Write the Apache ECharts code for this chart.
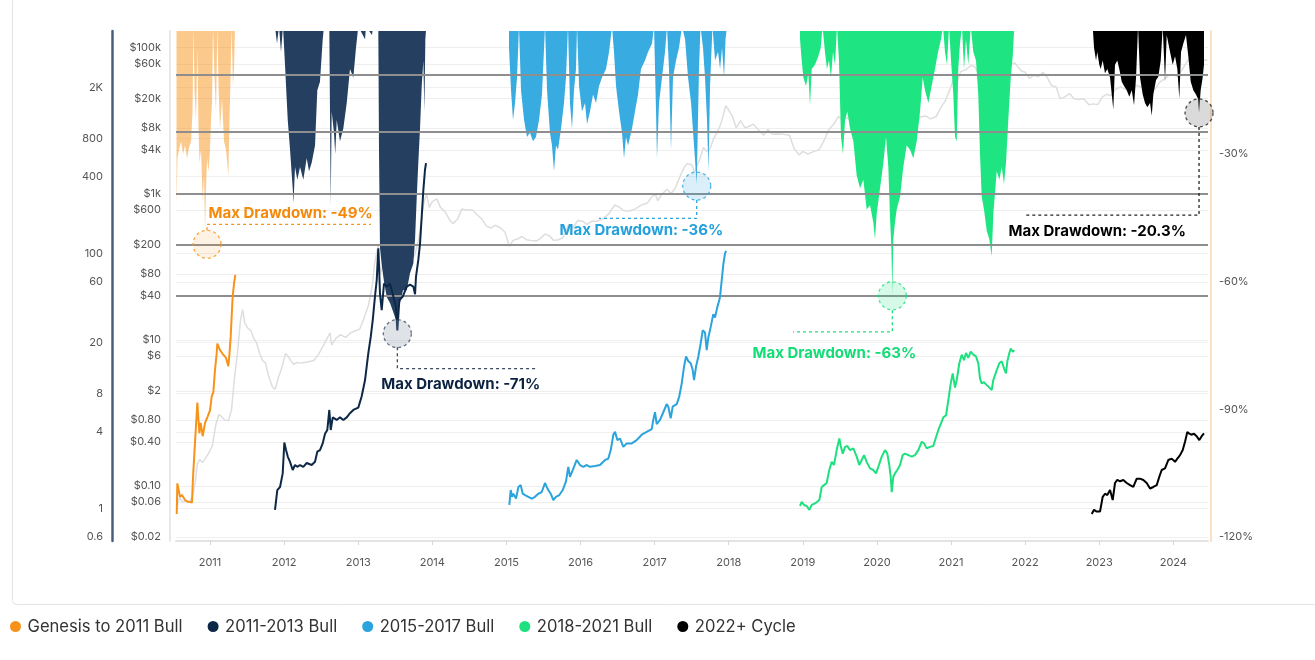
<!DOCTYPE html>
<html><head><meta charset="utf-8">
<script src="https://cdn.jsdelivr.net/npm/echarts@6/dist/echarts.min.js"></script>
<style>html,body{margin:0;padding:0;background:#fff}#c{width:1315px;height:660px}</style>
</head><body><div id="c"></div>
<script>
// ---------- tick labels ----------
const yearTicks = [2011,2012,2013,2014,2015,2016,2017,2018,2019,2020,2021,2022,2023,2024];
const priceTicks = [100000,60000,20000,8000,4000,1000,600,200,80,40,10,6,2,0.8,0.4,0.1,0.06,0.02];
const priceTickLabels = ['$100k','$60k','$20k','$8k','$4k','$1k','$600','$200','$80','$40','$10','$6','$2','$0.80','$0.40','$0.10','$0.06','$0.02'];
const multipleTicks = [2000,800,400,100,60,20,8,4,1,0.6];
const multipleTickLabels = ['2K','800','400','100','60','20','8','4','1','0.6'];
const drawdownTicks = [-30,-60,-90,-120];
const referenceLevels = [43000,7000,1000,200,40];

// ---------- categories ----------
const cycleNames = ['Genesis to 2011 Bull','2011-2013 Bull','2015-2017 Bull','2018-2021 Bull','2022+ Cycle'];
const maxDrawdownLabels = ['Max Drawdown: -49%','Max Drawdown: -71%','Max Drawdown: -36%','Max Drawdown: -63%','Max Drawdown: -20.3%'];

// ---------- BTC price (year, USD) ----------
const btcPrice = [[2010.55,0.05],[2010.59,0.07],[2010.63,0.06],[2010.68,0.063],[2010.72,0.06],[2010.76,0.07],[2010.80,0.11],[2010.83,0.20],[2010.86,0.23],[2010.90,0.21],[2010.94,0.24],[2010.98,0.28],[2011.03,0.35],[2011.08,0.70],[2011.12,0.95],[2011.16,0.88],[2011.20,0.80],[2011.25,0.78],[2011.29,1.10],[2011.33,3.0],[2011.37,6.5],[2011.41,18],[2011.44,26],[2011.47,17],[2011.51,14.5],[2011.55,13.5],[2011.59,10.5],[2011.63,9.0],[2011.67,6.5],[2011.71,5.2],[2011.75,4.8],[2011.79,3.2],[2011.84,2.3],[2011.88,2.1],[2011.92,3.0],[2011.96,3.9],[2012.02,6.5],[2012.05,6.0],[2012.09,5.2],[2012.13,4.6],[2012.17,4.9],[2012.22,4.8],[2012.27,4.9],[2012.33,5.0],[2012.40,5.2],[2012.46,6.2],[2012.52,8.0],[2012.58,10.5],[2012.62,12.5],[2012.64,8.5],[2012.70,10.5],[2012.76,11.8],[2012.83,10.8],[2012.90,12.5],[2012.96,13.3],[2013.02,14],[2013.08,20],[2013.14,30],[2013.19,55],[2013.22,110],[2013.27,200],[2013.30,80],[2013.34,115],[2013.40,120],[2013.46,100],[2013.51,70],[2013.56,95],[2013.63,110],[2013.70,130],[2013.76,140],[2013.82,250],[2013.88,700],[2013.92,1000],[2013.96,650],[2014.00,780],[2014.06,850],[2014.11,650],[2014.17,570],[2014.24,430],[2014.28,390],[2014.34,450],[2014.40,620],[2014.46,600],[2014.54,600],[2014.60,520],[2014.67,450],[2014.73,360],[2014.79,340],[2014.85,370],[2014.92,340],[2014.98,300],[2015.04,190],[2015.09,230],[2015.15,240],[2015.21,260],[2015.27,235],[2015.33,230],[2015.40,225],[2015.46,245],[2015.52,280],[2015.58,265],[2015.64,230],[2015.70,235],[2015.76,250],[2015.84,380],[2015.90,340],[2015.96,430],[2016.03,420],[2016.09,380],[2016.15,420],[2016.22,420],[2016.30,450],[2016.38,530],[2016.46,700],[2016.52,660],[2016.58,590],[2016.66,580],[2016.74,620],[2016.82,700],[2016.90,740],[2016.96,900],[2017.01,1000],[2017.04,800],[2017.10,1000],[2017.17,1150],[2017.22,1000],[2017.28,1200],[2017.35,1800],[2017.40,2300],[2017.44,2600],[2017.50,2500],[2017.54,2000],[2017.60,2800],[2017.66,4300],[2017.70,3800],[2017.75,4200],[2017.80,5800],[2017.85,7000],[2017.90,9500],[2017.96,16000],[2018.00,14000],[2018.05,11500],[2018.10,8000],[2018.16,10000],[2018.22,8000],[2018.28,8400],[2018.33,9000],[2018.40,7500],[2018.47,6300],[2018.53,7600],[2018.59,6500],[2018.66,6600],[2018.74,6500],[2018.82,6300],[2018.88,4200],[2018.95,3400],[2019.00,3800],[2019.07,3500],[2019.15,3800],[2019.22,4000],[2019.28,5200],[2019.35,7500],[2019.42,9000],[2019.48,11500],[2019.54,10000],[2019.60,11000],[2019.67,10000],[2019.73,8300],[2019.80,8500],[2019.86,8500],[2019.92,7200],[2019.97,7200],[2020.04,8000],[2020.11,10000],[2020.17,8800],[2020.20,5500],[2020.25,6600],[2020.32,7500],[2020.38,9500],[2020.46,9400],[2020.54,9200],[2020.58,11200],[2020.66,11600],[2020.72,10600],[2020.80,11400],[2020.86,15000],[2020.92,18500],[2020.98,26000],[2021.03,36000],[2021.08,33000],[2021.13,47000],[2021.20,50000],[2021.27,57000],[2021.32,55000],[2021.38,43000],[2021.45,36000],[2021.52,33000],[2021.57,32000],[2021.62,40000],[2021.68,47000],[2021.74,44000],[2021.80,58000],[2021.86,62000],[2021.90,55000],[2021.95,48000],[2022.00,46000],[2022.06,38000],[2022.12,42000],[2022.18,40000],[2022.24,46000],[2022.30,39000],[2022.36,30000],[2022.42,29000],[2022.47,20000],[2022.53,21000],[2022.60,23500],[2022.66,20000],[2022.72,19500],[2022.79,20000],[2022.86,16500],[2022.92,17000],[2022.98,16600],[2023.04,21000],[2023.10,23000],[2023.16,22000],[2023.22,27000],[2023.29,29000],[2023.35,27000],[2023.42,26000],[2023.48,30500],[2023.55,29500],[2023.62,26000],[2023.69,26500],[2023.75,27000],[2023.82,34000],[2023.88,37000],[2023.94,42000],[2024.00,43000],[2024.05,40000],[2024.12,50000],[2024.20,68000],[2024.25,69000],[2024.30,64000],[2024.36,62000],[2024.41,68000],[2024.46,67000]];

// ---------- cycle price multiples (year, x from cycle start) ----------
const genesisMultiple = [[2010.551,0.91],[2010.559,1.58],[2010.595,1.24],[2010.622,1.28],[2010.663,1.17],[2010.690,1.14],[2010.730,1.13],[2010.757,1.12],[2010.767,1.58],[2010.775,1.96],[2010.798,2.0],[2010.829,6.8],[2010.856,3.9],[2010.874,4.7],[2010.901,3.7],[2010.933,4.7],[2010.969,5.3],[2011.000,5.9],[2011.023,7.6],[2011.045,8.2],[2011.067,12.2],[2011.090,16.5],[2011.099,19.7],[2011.135,17.5],[2011.179,16.1],[2011.216,15.2],[2011.247,13.1],[2011.260,15.6],[2011.279,22.2],[2011.293,33],[2011.306,46],[2011.324,58],[2011.341,68]];
const bull2013Multiple = [[2011.877,0.98],[2011.908,1.40],[2011.945,1.48],[2011.981,1.89],[2012.003,3.3],[2012.026,2.88],[2012.049,2.56],[2012.080,2.33],[2012.116,2.01],[2012.147,2.2],[2012.178,2.13],[2012.215,2.2],[2012.259,2.13],[2012.305,2.28],[2012.372,2.2],[2012.417,2.33],[2012.448,2.8],[2012.484,2.88],[2012.521,3.25],[2012.552,3.87],[2012.583,4.14],[2012.610,5.94],[2012.629,4.14],[2012.656,5.2],[2012.710,4.96],[2012.754,5.2],[2012.799,4.96],[2012.845,5.2],[2012.889,5.6],[2012.934,5.94],[2013.001,6.2],[2013.047,7.6],[2013.092,10.2],[2013.136,16.5],[2013.169,22.2],[2013.196,30.1],[2013.227,46.5],[2013.250,62],[2013.271,110],[2013.281,80],[2013.294,48],[2013.317,36],[2013.348,58],[2013.385,55],[2013.429,58],[2013.474,46],[2013.510,38],[2013.528,25],[2013.555,43],[2013.601,46],[2013.655,55],[2013.699,57],[2013.744,55],[2013.767,48],[2013.780,66],[2013.811,89],[2013.834,119],[2013.857,195],[2013.879,314],[2013.901,451],[2013.915,510]];
const bull2017Multiple = [[2015.039,1.07],[2015.058,1.40],[2015.076,1.24],[2015.093,1.31],[2015.130,1.20],[2015.161,1.48],[2015.193,1.53],[2015.220,1.31],[2015.251,1.28],[2015.296,1.24],[2015.341,1.20],[2015.386,1.24],[2015.430,1.31],[2015.476,1.35],[2015.521,1.59],[2015.544,1.48],[2015.565,1.40],[2015.598,1.31],[2015.633,1.17],[2015.669,1.24],[2015.714,1.28],[2015.760,1.40],[2015.804,1.64],[2015.835,2.13],[2015.858,1.78],[2015.895,2.01],[2015.949,2.41],[2015.993,2.20],[2016.038,2.13],[2016.084,2.20],[2016.128,2.13],[2016.196,2.16],[2016.263,2.20],[2016.331,2.41],[2016.375,2.47],[2016.408,2.88],[2016.443,3.8],[2016.466,4.0],[2016.497,3.45],[2016.533,3.55],[2016.578,3.05],[2016.623,3.25],[2016.691,3.25],[2016.758,3.45],[2016.826,3.8],[2016.893,4.0],[2016.961,4.2],[2016.982,4.96],[2017.005,5.7],[2017.028,4.6],[2017.073,4.96],[2017.117,5.7],[2017.163,6.6],[2017.185,6.3],[2017.217,5.1],[2017.244,6.3],[2017.298,6.6],[2017.333,7.6],[2017.366,9.6],[2017.397,13],[2017.424,15.6],[2017.455,14.3],[2017.487,13.8],[2017.514,12.2],[2017.532,10.2],[2017.559,13],[2017.590,15.6],[2017.622,19.8],[2017.649,25],[2017.680,24],[2017.703,17.5],[2017.725,22],[2017.757,26.6],[2017.792,33.5],[2017.815,31.5],[2017.846,38],[2017.873,43.2],[2017.883,46],[2017.906,62],[2017.928,83],[2017.950,100],[2017.964,105]];
const bull2021Multiple = [[2018.962,1.05],[2018.985,1.13],[2019.016,1.07],[2019.053,1.05],[2019.088,0.98],[2019.120,1.07],[2019.164,1.10],[2019.223,1.17],[2019.255,1.48],[2019.286,1.53],[2019.322,1.59],[2019.357,2.01],[2019.390,2.33],[2019.421,2.2],[2019.457,2.88],[2019.493,3.55],[2019.512,3.1],[2019.539,2.7],[2019.570,3.05],[2019.601,3.1],[2019.637,2.88],[2019.682,2.97],[2019.727,2.56],[2019.762,2.2],[2019.795,2.41],[2019.826,2.63],[2019.862,2.33],[2019.907,2.07],[2019.951,2.01],[2019.988,1.89],[2020.019,2.13],[2020.065,2.56],[2020.109,2.88],[2020.140,2.7],[2020.167,2.2],[2020.186,1.78],[2020.200,1.35],[2020.221,1.78],[2020.244,1.89],[2020.275,2.01],[2020.312,2.2],[2020.348,2.63],[2020.379,2.7],[2020.424,2.63],[2020.470,2.56],[2020.514,2.63],[2020.559,2.88],[2020.605,3.35],[2020.636,3.25],[2020.672,2.97],[2020.717,3.05],[2020.761,3.1],[2020.798,3.65],[2020.829,4.14],[2020.861,4.6],[2020.896,5.2],[2020.933,5.4],[2020.964,7.1],[2020.996,9.6],[2021.023,11.5],[2021.054,8.9],[2021.077,10.2],[2021.112,13.8],[2021.144,16.1],[2021.175,14.6],[2021.202,16.6],[2021.233,15.2],[2021.266,17.0],[2021.301,16.1],[2021.337,15.6],[2021.368,13.8],[2021.391,10.5],[2021.414,9.6],[2021.445,9.8],[2021.482,9.3],[2021.517,8.9],[2021.549,8.5],[2021.571,10.2],[2021.617,12.2],[2021.652,13.8],[2021.684,14.3],[2021.715,12.6],[2021.742,11.5],[2021.760,14.3],[2021.787,16.6],[2021.806,18.0],[2021.833,17.0],[2021.854,17.5]];
const cycle2022Multiple = [[2022.899,0.91],[2022.930,0.98],[2022.966,0.95],[2023.011,0.95],[2023.047,1.24],[2023.078,1.31],[2023.109,1.28],[2023.146,1.40],[2023.182,1.17],[2023.213,1.59],[2023.244,1.68],[2023.281,1.64],[2023.325,1.68],[2023.371,1.59],[2023.416,1.53],[2023.460,1.48],[2023.506,1.72],[2023.551,1.72],[2023.595,1.68],[2023.641,1.59],[2023.686,1.44],[2023.730,1.48],[2023.776,1.53],[2023.811,1.78],[2023.843,2.01],[2023.888,2.07],[2023.933,2.41],[2023.978,2.47],[2024.023,2.33],[2024.054,2.47],[2024.091,2.63],[2024.127,2.88],[2024.158,3.35],[2024.189,4.0],[2024.216,3.87],[2024.243,3.8],[2024.279,3.87],[2024.315,3.7],[2024.351,3.45],[2024.383,3.7],[2024.414,3.9]];

// ---------- drawdown from cycle high (year, %) ----------
const genesisDrawdown = [[2010.548,-42],[2010.561,-31],[2010.582,-29],[2010.609,-27],[2010.636,-30],[2010.663,-28],[2010.690,-31],[2010.717,-28.5],[2010.744,-27],[2010.764,-20],[2010.777,0],[2010.791,-15],[2010.811,-22],[2010.829,-5],[2010.845,-24],[2010.858,-32],[2010.879,-29],[2010.901,-41],[2010.919,-35],[2010.933,-48],[2010.946,-38],[2010.960,-31],[2010.980,-34],[2011.000,-29],[2011.013,-22],[2011.027,-18],[2011.040,0],[2011.061,-12],[2011.081,-20],[2011.099,0],[2011.115,-14],[2011.135,-24],[2011.162,-17],[2011.189,-27],[2011.216,-29],[2011.247,-35],[2011.263,-22],[2011.277,-12],[2011.290,0],[2011.310,-14],[2011.324,-10],[2011.337,0]];
const bull2013Drawdown = [[2011.877,0],[2011.904,-4],[2011.931,0],[2011.958,-6],[2011.985,0],[2012.003,0],[2012.012,-9],[2012.026,-14],[2012.049,-22],[2012.080,-29],[2012.116,-38],[2012.127,-41.5],[2012.147,-33],[2012.178,-36],[2012.215,-33],[2012.259,-36],[2012.305,-31],[2012.336,-34],[2012.372,-32],[2012.417,-28],[2012.448,-15],[2012.484,-13],[2012.521,-3],[2012.538,0],[2012.610,0],[2012.629,-42],[2012.642,-20],[2012.673,-25],[2012.690,-30],[2012.710,-22],[2012.754,-27],[2012.799,-24],[2012.845,-18],[2012.889,-10],[2012.934,-12],[2012.970,-5],[2013.001,0],[2013.092,-3],[2013.105,0],[2013.186,-2],[2013.200,0],[2013.271,0],[2013.281,-30],[2013.294,-52],[2013.317,-56],[2013.348,-60],[2013.385,-63.6],[2013.429,-65],[2013.470,-67],[2013.510,-69],[2013.528,-71],[2013.544,-66],[2013.564,-65],[2013.605,-62],[2013.655,-62],[2013.699,-58],[2013.744,-55.7],[2013.767,-50],[2013.790,-40],[2013.811,-32],[2013.834,-24],[2013.857,-14],[2013.879,-8],[2013.893,-20],[2013.906,-3],[2013.919,0]];
const bull2017Drawdown = [[2015.035,-5],[2015.062,-15],[2015.089,-22],[2015.116,-18],[2015.143,-12],[2015.170,0],[2015.197,-15],[2015.238,-22],[2015.278,-26],[2015.318,-25],[2015.359,-27],[2015.399,-26],[2015.440,-22],[2015.480,-16],[2015.521,0],[2015.548,-15],[2015.588,-25],[2015.615,-28],[2015.642,-34],[2015.669,-28],[2015.696,-29],[2015.737,-24],[2015.777,-18],[2015.804,-12],[2015.831,0],[2015.858,-18],[2015.885,-24],[2015.912,-15],[2015.939,-10],[2015.953,0],[2015.980,-14],[2016.020,-20],[2016.061,-18],[2016.088,-23],[2016.128,-20],[2016.169,-16],[2016.209,-18],[2016.250,-14],[2016.290,-12],[2016.344,-10],[2016.385,-6],[2016.425,0],[2016.452,-6],[2016.479,-14],[2016.520,-20],[2016.560,-25],[2016.587,-31],[2016.614,-26],[2016.641,-28],[2016.695,-24],[2016.735,-20],[2016.776,-16],[2016.816,-10],[2016.870,-8],[2016.911,-6],[2016.965,-4],[2016.992,0],[2017.019,-20],[2017.032,-31],[2017.059,-18],[2017.100,-12],[2017.140,-6],[2017.167,0],[2017.194,-10],[2017.221,-29],[2017.248,-12],[2017.289,-8],[2017.329,-5],[2017.370,0],[2017.411,-3],[2017.451,-12],[2017.492,-18],[2017.532,-28],[2017.568,-37],[2017.599,-10],[2017.619,0],[2017.653,-5],[2017.680,-12],[2017.707,-22],[2017.727,-34],[2017.748,-14],[2017.781,0],[2017.815,-8],[2017.856,-6],[2017.883,-10],[2017.910,-5],[2017.937,-12],[2017.957,-3],[2017.977,0]];
const bull2021Drawdown = [[2018.962,-3],[2018.985,-8],[2019.007,-12],[2019.043,-14],[2019.074,-11],[2019.097,-18.5],[2019.120,-10],[2019.164,-9],[2019.209,-7],[2019.242,-5],[2019.266,0],[2019.299,-6],[2019.326,-10],[2019.353,-8],[2019.380,-12],[2019.407,-6],[2019.434,-9],[2019.461,0],[2019.488,-8],[2019.515,-26],[2019.542,-30],[2019.570,-22],[2019.601,-20],[2019.637,-24],[2019.682,-27],[2019.727,-35],[2019.772,-38],[2019.817,-36],[2019.862,-43],[2019.907,-42],[2019.951,-46],[2019.974,-50],[2019.997,-44],[2020.042,-38],[2020.087,-32],[2020.123,-26],[2020.154,-33],[2020.177,-45],[2020.195,-52],[2020.208,-63],[2020.221,-50],[2020.244,-46],[2020.267,-43],[2020.312,-40],[2020.356,-33],[2020.402,-28],[2020.447,-29],[2020.491,-31],[2020.537,-27],[2020.582,-20],[2020.618,-12],[2020.649,-15],[2020.694,-18],[2020.739,-14],[2020.784,-10],[2020.825,-6],[2020.865,-3],[2020.892,0],[2020.919,-6],[2020.946,-9],[2020.973,0],[2021.000,-8],[2021.031,-16],[2021.054,-26],[2021.077,-27],[2021.098,-10],[2021.121,-4],[2021.148,0],[2021.175,-10],[2021.202,-3],[2021.233,-9],[2021.266,0],[2021.301,-6],[2021.337,-8],[2021.368,-16],[2021.391,-30],[2021.414,-40],[2021.445,-43],[2021.482,-48],[2021.517,-50],[2021.549,-54],[2021.571,-44],[2021.617,-34],[2021.652,-36],[2021.684,-33],[2021.715,-37],[2021.742,-32],[2021.773,-22],[2021.806,-12],[2021.833,-7],[2021.854,0]];
const cycle2022Drawdown = [[2022.912,0],[2022.930,-5],[2022.957,-8],[2022.974,-6],[2023.001,-9],[2023.020,-10],[2023.047,-8],[2023.078,-11],[2023.109,-10],[2023.146,-12],[2023.190,-19.5],[2023.213,-9],[2023.244,-8],[2023.271,-10],[2023.304,-13],[2023.335,-14],[2023.371,-15],[2023.406,-16.5],[2023.439,-15],[2023.470,-18.5],[2023.497,-12],[2023.524,0],[2023.551,-12],[2023.587,-16],[2023.618,-18],[2023.649,-19],[2023.686,-18],[2023.709,-21],[2023.730,-16],[2023.767,-12.6],[2023.798,-11.8],[2023.830,-8],[2023.857,0],[2023.888,-13],[2023.911,-2],[2023.956,-6],[2023.992,-9],[2024.023,-7],[2024.054,-10],[2024.081,-17],[2024.104,-6],[2024.135,-4],[2024.171,-2],[2024.202,-7],[2024.235,-13],[2024.270,-15],[2024.306,-16],[2024.333,-17],[2024.347,-20.3],[2024.369,-15],[2024.396,-12],[2024.414,-9]];

// ---------- annotation anchors (year, drawdown %) ----------
const maxDrawdownPoints = [[2010.960,-51.2],[2013.528,-72.2],[2017.568,-37.5],[2020.208,-63.3],[2024.347,-20.3]];
const leaderPaths = [
  [[2010.960,-47.9],[2010.960,-46.5],[2013.173,-46.5]],
  [[2013.528,-75.4],[2013.528,-80.4],[2015.426,-80.4]],
  [[2017.568,-40.8],[2017.568,-45.1],[2016.250,-45.1]],
  [[2020.208,-66.7],[2020.208,-71.8],[2018.868,-71.8]],
  [[2024.347,-23.6],[2024.347,-44.35],[2021.999,-44.35]]
];
const labelAnchors = [[2010.973,-43.9],[2013.304,-84.2],[2015.710,-47.9],[2018.314,-76.8],[2021.769,-48.1]];

// ---------- styles ----------
const lineColors = ['#f7931a','#0d2847','#2ba3dc','#1ee07e','#000000'];
const areaColors = ['rgba(247,147,26,0.5)','#253f60','#38abe0','#1ee582','#000000'];
const circleFills = ['rgba(247,147,26,0.15)','rgba(140,150,165,0.35)','rgba(43,163,220,0.22)','rgba(30,224,126,0.22)','rgba(140,140,140,0.4)'];
const circleBorders = ['#f7931a','#3c4b60','#2ba3dc','#1ee07e','#222222'];
const labelColors = ['#f48a0c','#0b2240','#24a0dc','#14dc76','#000000'];

const multiples = [genesisMultiple,bull2013Multiple,bull2017Multiple,bull2021Multiple,cycle2022Multiple];
const drawdowns = [genesisDrawdown,bull2013Drawdown,bull2017Drawdown,bull2021Drawdown,cycle2022Drawdown];

const toLog = arr => arr.map(p => [p[0], Math.log10(p[1])]);
const lookup = (ticks, labels) => v => {
  for (let i = 0; i < ticks.length; i++) if (Math.abs(Math.log10(ticks[i]) - v) < 1e-6) return labels[i];
  return '';
};
const FONT = 'Inter';

const series = [];
series.push({
  name: 'BTC Price', type: 'line', yAxisIndex: 0, data: toLog(btcPrice),
  showSymbol: false, silent: true, z: 1,
  lineStyle: { color: '#dedede', width: 1.5 }, itemStyle: { color: '#dedede' }
});
drawdowns.forEach((d, i) => series.push({
  name: cycleNames[i], type: 'line', yAxisIndex: 2, data: d,
  showSymbol: false, silent: true, z: 2, clip: true,
  itemStyle: { color: lineColors[i] },
  lineStyle: { width: 0 },
  areaStyle: { color: areaColors[i], opacity: 1, origin: 'end' }
}));
series.push({
  name: 'ref', type: 'line', yAxisIndex: 0, data: [], z: 3,
  markLine: {
    silent: true, z: 3, symbol: ['none','none'], label: { show: false },
    lineStyle: { color: '#8e8e8e', width: 2, type: 'solid' },
    data: referenceLevels.map(v => ({ yAxis: Math.log10(v) }))
  }
});
multiples.forEach((m, i) => series.push({
  name: cycleNames[i], type: 'line', yAxisIndex: 1, data: toLog(m),
  showSymbol: false, silent: true, z: 4,
  itemStyle: { color: lineColors[i] },
  lineStyle: { color: lineColors[i], width: 2 }
}));
maxDrawdownPoints.forEach((p, i) => {
  series.push({
    name: 'ann-line-' + i, type: 'line', yAxisIndex: 2, data: leaderPaths[i],
    showSymbol: false, silent: true, z: 5,
    lineStyle: { color: circleBorders[i], width: 1.3, type: [3, 3] }
  });
  series.push({
    name: 'ann-circle-' + i, type: 'scatter', yAxisIndex: 2, data: [p],
    symbol: 'circle', symbolSize: 28, silent: true, z: 5,
    itemStyle: { color: circleFills[i], borderColor: circleBorders[i], borderWidth: 1.3, borderType: [3, 3] }
  });
  series.push({
    name: 'ann-text-' + i, type: 'scatter', yAxisIndex: 2, data: [labelAnchors[i]],
    symbolSize: 1, silent: true, z: 6, itemStyle: { color: 'rgba(0,0,0,0)' },
    label: { show: true, position: 'right', distance: 0, formatter: maxDrawdownLabels[i], opacity: 1,
      textBorderWidth: 0, color: labelColors[i], fontSize: 15, fontWeight: 700, fontFamily: FONT }
  });
});

const axisLabelStyle = { color: '#555', fontSize: 11, fontFamily: FONT };

const option = {
  animation: false,
  backgroundColor: '#fff',
  grid: { left: 176, right: 107, top: 31, bottom: 119, outerBoundsMode: 'none' },
  graphic: [{ type: 'rect', left: 10, top: -5, silent: true, z: -1,
    shape: { width: 1320, height: 607, r: 4 },
    style: { fill: 'none', stroke: '#e3e3e3', lineWidth: 1 } }],
  legend: {
    left: 10, top: 618, padding: 0, icon: 'circle', itemWidth: 14, itemHeight: 11, itemGap: 25,
    data: cycleNames,
    textStyle: { fontSize: 16.6, color: '#333', fontFamily: 'Inter' }
  },
  xAxis: {
    type: 'value', min: 2010.541, max: 2024.468,
    axisLine: { show: true, onZero: false, lineStyle: { color: '#e3e3e3', width: 2 } },
    axisTick: { show: true, customValues: yearTicks, length: 4, lineStyle: { color: '#d6d6d6' } },
    axisLabel: Object.assign({ customValues: yearTicks, margin: 16, formatter: v => String(v) }, axisLabelStyle),
    splitLine: { show: false }
  },
  yAxis: [
    { type: 'value', position: 'left', offset: 6, min: -1.7538, max: 5.228,
      axisLine: { show: true, lineStyle: { color: '#e8e8e8', width: 2 } },
      axisTick: { show: false, customValues: priceTicks.map(Math.log10) },
      axisLabel: Object.assign({ customValues: priceTicks.map(Math.log10), margin: 9, formatter: lookup(priceTicks, priceTickLabels) }, axisLabelStyle),
      splitLine: { show: true, lineStyle: { color: '#eeeeee', width: 1 } } },
    { type: 'value', position: 'left', offset: 64, min: -0.2531, max: 3.7437,
      axisLine: { show: true, lineStyle: { color: '#4a5f7f', width: 2.5 } },
      axisTick: { show: false, customValues: multipleTicks.map(Math.log10) },
      axisLabel: Object.assign({ customValues: multipleTicks.map(Math.log10), margin: 9, formatter: lookup(multipleTicks, multipleTickLabels) }, axisLabelStyle),
      splitLine: { show: true, lineStyle: { color: '#f0f0f0', width: 1 } } },
    { type: 'value', position: 'right', offset: 3, min: -120.94, max: -1.06,
      axisLine: { show: true, lineStyle: { color: '#fde0c2', width: 2 } },
      axisTick: { show: false, customValues: drawdownTicks },
      axisLabel: Object.assign({ customValues: drawdownTicks, margin: 8, formatter: v => v + '%' }, axisLabelStyle),
      splitLine: { show: false } }
  ],
  series
};
const chart = echarts.init(document.getElementById('c'), null, { renderer: 'canvas' });
chart.setOption(option);
</script></body></html>
